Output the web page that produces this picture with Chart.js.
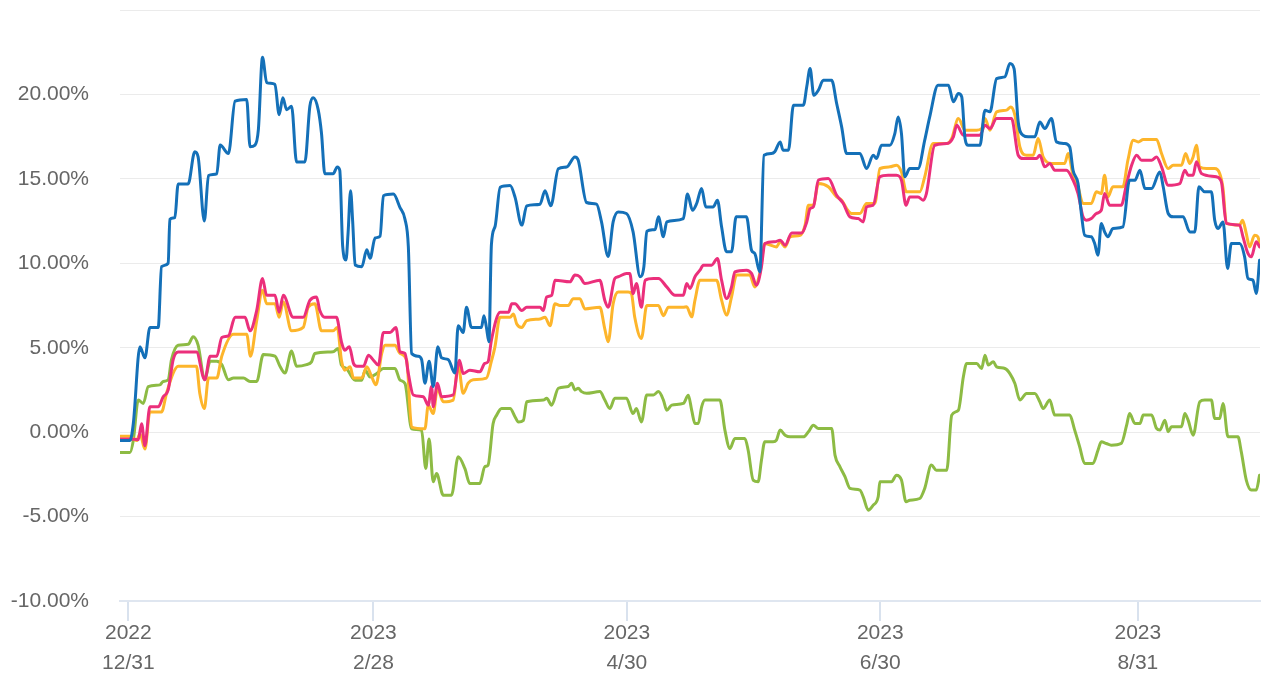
<!DOCTYPE html>
<html>
<head>
<meta charset="utf-8">
<script src="https://cdn.jsdelivr.net/npm/chart.js@4.4.0/dist/chart.umd.min.js"></script>
<style>
html,body{margin:0;padding:0;background:#fff;}
#wrap{width:1268px;height:675px;}
</style>
</head>
<body>
<div id="wrap"><canvas id="c" width="1268" height="675"></canvas></div>
<script>
// x = days since 2022-12-31, y = cumulative return (%)
const tickDays = [0, 59, 120, 181, 243];
const tickYears = ['2022', '2023', '2023', '2023', '2023'];
const tickDates = ['12/31', '2/28', '4/30', '6/30', '8/31'];

const bluePts = [[-2,-0.5],[0.4,-0.5],[1.2,0.5],[2.8,5.05],[4.0,4.4],[5.2,6.2],[7.2,6.2],[8.0,9.8],[9.6,10.0],[10.0,12.6],[11.2,12.7],[12.0,14.7],[14.4,14.7],[16.0,16.6],[16.8,16.3],[18.3,12.5],[19.3,15.2],[21.3,15.3],[22.1,17.0],[24.1,16.5],[25.7,19.6],[28.5,19.7],[29.3,16.9],[30.5,17.0],[31.3,17.9],[32.3,22.2],[33.3,20.7],[35.3,20.6],[36.3,18.8],[37.2,19.8],[38.1,19.1],[39.3,19.3],[40.5,16.0],[42.5,16.0],[43.7,19.3],[44.5,19.8],[45.7,19.1],[46.5,17.7],[47.3,15.3],[49.3,15.3],[50.3,15.7],[50.9,15.5],[51.6,11.0],[52.4,10.2],[52.9,11.8],[53.5,14.3],[54.0,12.5],[54.6,9.9],[56.2,9.8],[57.4,10.8],[58.2,10.3],[59.4,11.5],[60.6,11.6],[61.4,14.0],[63.8,14.1],[65.4,13.3],[66.6,12.6],[67.4,11.0],[68.2,4.66],[69.8,4.5],[70.6,4.3],[71.4,2.9],[72.4,4.2],[73.4,2.7],[74.5,5.05],[75.4,4.4],[77.0,4.3],[78.6,3.5],[79.4,6.3],[80.6,5.9],[81.4,7.4],[82.6,6.2],[85.0,6.2],[85.6,6.9],[86.2,6.2],[86.8,5.35],[87.4,11.1],[88.3,12.2],[89.5,14.5],[91.9,14.6],[93.1,13.9],[94.7,12.26],[95.9,13.4],[99.1,13.5],[100.3,14.3],[101.7,13.4],[103.5,15.6],[105.5,15.7],[107.5,16.3],[108.3,16.1],[110.3,13.6],[112.7,13.5],[113.9,12.45],[115.5,10.4],[116.7,12.45],[117.9,13.04],[119.9,12.95],[121.5,11.86],[123.2,9.2],[124.1,9.8],[124.8,11.9],[126.8,12.0],[127.6,12.75],[128.8,11.57],[129.6,12.45],[133.6,12.65],[134.6,14.1],[135.8,13.14],[136.8,13.54],[138.0,14.43],[139.0,13.34],[140.8,13.34],[141.8,13.74],[142.8,12.16],[144.0,10.68],[145.2,10.68],[146.3,12.75],[148.8,12.75],[150.0,10.78],[150.8,10.58],[152.0,9.49],[153.0,16.4],[154.8,16.5],[155.6,16.6],[156.9,17.19],[157.6,16.7],[158.9,16.7],[160.1,19.36],[162.5,19.36],[163.3,20.45],[164.1,21.53],[165.0,19.95],[166.1,20.25],[167.3,20.84],[169.3,20.84],[170.5,19.46],[171.7,18.08],[172.9,16.5],[176.1,16.5],[177.7,15.61],[179.3,16.4],[180.1,16.2],[181.3,16.99],[183.3,16.99],[184.5,17.68],[185.3,18.67],[186.1,17.68],[186.9,15.12],[188.1,15.61],[190.1,15.61],[191.7,17.29],[192.9,18.67],[194.9,20.55],[197.4,20.55],[198.6,19.56],[199.8,20.05],[200.6,19.86],[201.4,17.39],[202.2,16.99],[205.0,16.99],[206.2,19.07],[207.4,18.97],[209.0,20.94],[211.0,21.04],[212.2,21.83],[213.2,21.53],[214.2,18.37],[215.4,17.58],[216.6,17.49],[218.2,17.49],[219.4,18.37],[220.6,17.98],[222.2,18.57],[223.4,17.19],[225.4,17.09],[226.6,16.89],[227.4,15.51],[228.6,14.72],[229.4,12.95],[230.2,11.66],[231.8,11.57],[232.6,11.17],[233.4,10.48],[234.2,12.36],[235.0,11.86],[235.8,11.57],[237.0,12.06],[239.4,12.16],[241.0,14.92],[242.3,14.92],[243.5,15.51],[244.7,14.43],[246.3,14.43],[248.3,15.41],[249.1,14.53],[250.3,12.95],[251.5,12.75],[253.9,12.75],[255.5,11.86],[256.7,11.86],[257.7,14.53],[259.1,14.23],[260.7,14.23],[261.5,12.55],[262.3,12.06],[263.5,12.45],[264.6,9.69],[265.5,11.17],[267.5,11.17],[268.7,10.38],[269.5,9.1],[270.7,9.0],[271.5,8.21],[272.3,10.18]];

const pinkPts = [[-2,-0.4],[0.4,-0.4],[2.4,-0.45],[3.2,0.5],[4.0,-0.8],[5.2,1.5],[7.2,1.5],[8.4,2.1],[9.6,2.5],[10.8,4.3],[12.0,4.75],[16.4,4.75],[18.4,3.1],[19.7,4.5],[21.3,4.5],[22.5,5.6],[24.1,5.7],[25.7,6.8],[28.1,6.8],[29.3,6.0],[30.9,7.2],[32.3,9.1],[33.3,8.1],[35.3,8.1],[36.3,7.1],[37.3,8.1],[39.7,6.8],[42.1,6.8],[43.7,7.8],[45.3,8.0],[46.1,7.2],[47.3,6.8],[50.1,6.8],[51.3,5.35],[52.1,4.85],[53.2,5.05],[54.2,4.07],[55.0,3.9],[56.6,3.9],[57.8,4.56],[59.0,4.26],[60.2,3.97],[61.4,5.9],[63.0,5.9],[64.4,6.2],[65.4,4.76],[66.6,4.66],[67.4,3.47],[68.6,2.2],[71.0,2.1],[72.2,1.6],[73.0,2.7],[73.4,1.5],[74.4,2.9],[75.4,2.1],[78.2,2.2],[79.7,4.26],[80.6,3.47],[82.2,3.67],[84.6,3.57],[85.8,4.07],[86.6,4.17],[87.4,5.45],[89.5,7.1],[91.5,7.1],[92.3,7.6],[93.1,7.6],[94.7,7.2],[95.9,7.4],[99.1,7.4],[99.9,7.2],[100.7,8.0],[101.9,8.1],[102.7,9.0],[106.3,8.9],[107.5,9.3],[108.7,9.2],[109.9,8.8],[113.5,9.0],[114.7,7.8],[115.5,7.4],[117.1,9.1],[117.9,9.2],[119.9,9.4],[120.7,9.4],[121.5,8.2],[122.3,8.8],[123.5,7.4],[124.4,9.0],[126.4,9.1],[127.6,9.1],[129.6,8.6],[131.6,8.1],[133.6,8.11],[134.4,8.8],[135.2,8.51],[136.4,9.2],[137.6,9.59],[138.4,9.89],[140.4,9.89],[141.8,10.28],[142.8,9.0],[144.0,7.91],[145.2,8.6],[146.0,9.49],[148.8,9.59],[150.0,9.4],[151.2,8.7],[152.4,9.79],[153.2,11.17],[155.6,11.27],[156.9,11.37],[158.1,11.07],[159.7,11.8],[162.1,11.8],[163.3,12.45],[164.1,13.24],[164.9,13.34],[166.1,14.92],[168.5,15.02],[170.5,14.03],[172.1,13.54],[173.7,12.75],[175.7,12.65],[176.9,12.45],[177.7,13.34],[179.3,13.44],[180.9,15.12],[182.9,15.22],[184.9,15.22],[186.1,14.92],[187.2,13.44],[188.1,13.93],[190.1,13.93],[191.3,13.74],[192.1,14.13],[194.1,16.99],[197.0,17.09],[198.6,17.49],[199.4,18.18],[201.0,17.58],[205.0,17.58],[206.2,18.18],[207.4,17.98],[209.0,18.57],[212.6,18.57],[214.2,16.4],[215.4,16.2],[218.6,16.2],[219.4,16.4],[220.6,15.71],[221.8,15.91],[223.0,15.51],[225.8,15.51],[227.4,14.92],[228.6,14.13],[229.8,12.75],[230.6,12.55],[231.8,12.65],[233.0,12.95],[234.2,13.14],[235.0,14.13],[236.2,13.44],[239.0,13.44],[240.3,14.72],[241.5,15.81],[242.7,16.4],[243.9,16.1],[246.3,16.1],[247.5,16.3],[248.7,15.71],[250.3,14.62],[253.1,14.72],[254.3,15.51],[255.1,15.22],[256.3,15.22],[257.1,16.01],[258.3,15.32],[261.9,15.12],[263.1,14.82],[264.3,12.36],[267.5,12.26],[268.3,11.57],[269.5,10.58],[270.3,10.38],[271.5,11.27],[272.3,10.97]];

const orangePts = [[-2,-0.25],[0.4,-0.25],[2.0,-0.5],[2.8,-0.1],[4.0,-1.0],[5.2,1.2],[8.0,1.2],[9.2,2.3],[10.8,3.5],[12.0,3.9],[16.4,3.9],[17.2,2.3],[18.3,1.4],[19.3,3.2],[21.3,3.2],[22.5,4.5],[25.3,5.8],[28.5,5.8],[29.4,4.5],[30.9,6.6],[32.3,8.4],[33.3,7.6],[35.3,7.6],[36.3,6.8],[37.3,7.7],[39.3,6.0],[42.1,6.2],[43.3,7.4],[44.9,7.6],[46.5,6.0],[49.3,6.0],[50.3,6.2],[51.3,4.26],[52.1,3.67],[53.4,3.87],[54.2,3.2],[56.2,3.2],[57.4,3.87],[58.6,3.27],[59.6,2.8],[61.0,4.66],[61.8,5.15],[64.2,5.15],[65.4,4.66],[67.0,4.26],[68.2,0.3],[71.4,0.2],[72.2,1.6],[73.4,1.1],[74.4,2.6],[75.8,1.8],[78.2,1.9],[79.4,3.97],[80.6,2.3],[81.8,2.9],[83.0,3.1],[86.2,3.2],[87.4,4.2],[88.25,5.05],[89.45,6.8],[91.9,6.8],[92.7,7.0],[93.5,6.4],[94.7,6.2],[95.9,6.6],[99.1,6.7],[100.3,6.8],[101.5,6.3],[102.7,7.6],[103.9,7.5],[105.9,7.5],[107.1,7.9],[108.7,7.9],[109.9,7.3],[113.5,7.4],[114.7,6.1],[115.5,5.35],[116.7,7.6],[117.9,8.3],[120.3,8.3],[121.1,8.2],[121.9,6.8],[123.5,5.55],[124.8,7.5],[127.6,7.5],[128.8,6.9],[130.0,7.4],[133.6,7.4],[134.4,7.42],[135.6,6.83],[136.4,7.82],[137.6,9.0],[141.6,9.0],[142.8,7.82],[144.0,6.93],[145.2,8.01],[146.4,9.3],[149.6,9.3],[150.8,8.6],[152.0,9.4],[153.2,11.17],[156.0,10.97],[156.9,11.27],[158.1,10.97],[159.3,11.57],[161.7,11.66],[162.9,12.26],[163.7,13.44],[164.9,13.44],[166.1,14.72],[168.5,14.53],[170.5,13.93],[171.7,13.74],[172.9,13.24],[174.1,12.95],[176.1,12.95],[177.7,13.54],[179.7,13.54],[180.9,15.61],[183.3,15.71],[184.9,15.81],[186.1,15.41],[187.3,14.23],[190.5,14.23],[191.7,15.12],[193.7,17.09],[197.0,17.09],[198.2,17.39],[199.8,18.57],[201.4,17.88],[204.2,17.88],[205.4,17.98],[206.2,18.57],[207.4,17.88],[209.0,18.97],[211.4,19.07],[212.4,19.26],[213.4,18.77],[214.6,16.89],[216.2,16.4],[217.8,16.4],[219.0,17.39],[220.2,16.3],[222.2,15.91],[225.4,15.91],[226.2,16.5],[227.4,15.22],[228.6,14.53],[229.8,13.54],[231.8,13.54],[233.0,14.23],[234.2,14.13],[235.0,15.22],[235.8,13.93],[237.0,14.53],[239.4,14.53],[240.6,16.1],[241.9,17.29],[243.1,17.19],[244.3,17.33],[247.5,17.33],[248.7,16.5],[250.3,15.61],[251.5,15.81],[253.5,15.81],[254.5,16.5],[255.5,15.91],[256.3,16.3],[257.1,16.99],[257.9,15.71],[259.5,15.61],[261.5,15.61],[262.7,15.32],[263.5,14.43],[264.3,12.36],[267.5,12.26],[268.2,12.55],[269.1,11.76],[269.9,10.97],[271.1,11.66],[271.9,11.57],[272.3,11.17]];

const greenPts = [[-2,-1.2],[0.4,-1.2],[1.2,-0.5],[2.4,1.9],[3.6,1.7],[4.8,2.7],[7.6,2.8],[8.4,3.0],[9.6,3.1],[10.4,4.3],[12.0,5.15],[14.4,5.2],[15.6,5.65],[16.8,5.15],[18.4,3.1],[19.7,4.2],[21.3,4.2],[22.5,4.0],[24.1,3.1],[25.3,3.2],[27.7,3.2],[29.3,3.0],[30.9,3.0],[32.5,4.6],[35.3,4.5],[36.5,3.9],[37.7,3.5],[39.3,4.8],[40.5,3.9],[42.9,4.0],[44.1,4.16],[44.9,4.66],[49.3,4.76],[50.5,4.95],[51.3,3.97],[52.5,3.77],[53.8,3.27],[54.6,3.08],[56.2,3.08],[57.0,3.67],[58.2,3.27],[59.8,3.47],[61.4,3.77],[64.2,3.77],[65.4,3.08],[66.6,2.88],[68.2,0.2],[70.6,0.1],[71.6,-2.15],[72.4,-0.4],[73.4,-2.94],[74.2,-2.45],[75.8,-3.73],[77.8,-3.73],[79.4,-1.46],[81.0,-2.15],[82.2,-3.04],[84.6,-3.04],[85.8,-2.05],[86.6,-1.95],[87.8,0.5],[88.65,1.0],[89.85,1.4],[91.9,1.4],[93.1,0.9],[93.9,0.6],[95.1,0.7],[95.9,1.8],[99.9,1.9],[100.7,2.0],[101.9,1.6],[103.5,2.6],[105.9,2.7],[106.7,2.9],[107.5,2.5],[108.3,2.6],[109.1,2.4],[110.3,2.3],[113.5,2.4],[114.7,1.9],[115.9,1.4],[117.1,2.0],[119.9,2.0],[121.5,1.1],[122.3,1.4],[123.5,0.6],[124.8,2.2],[126.4,2.2],[127.6,2.4],[128.8,1.9],[129.6,1.3],[130.8,1.6],[133.6,1.7],[134.8,2.19],[135.6,1.3],[136.4,0.51],[137.2,0.51],[138.0,1.5],[138.8,1.9],[142.4,1.9],[143.6,0.12],[144.8,-0.97],[146.0,-0.38],[148.4,-0.38],[149.2,-1.07],[150.4,-2.84],[151.6,-2.94],[152.4,-1.66],[153.2,-0.57],[155.2,-0.57],[156.0,-0.47],[156.9,0.12],[158.1,-0.18],[159.3,-0.28],[162.5,-0.28],[163.7,0.02],[164.9,0.41],[166.1,0.22],[169.3,0.22],[170.1,-1.36],[171.3,-2.05],[172.5,-2.64],[173.7,-3.33],[176.1,-3.43],[176.9,-3.83],[178.1,-4.62],[179.3,-4.32],[180.5,-3.83],[180.9,-2.94],[183.7,-2.94],[184.9,-2.55],[186.1,-2.84],[187.2,-4.12],[188.1,-4.03],[190.5,-3.93],[191.7,-3.33],[193.3,-1.95],[194.5,-2.25],[197.0,-2.25],[198.2,1.01],[199.8,1.3],[201.0,3.28],[201.8,4.07],[204.2,4.07],[205.4,3.77],[206.2,4.56],[207.0,3.97],[208.2,4.17],[209.0,3.87],[211.0,3.77],[212.2,3.47],[213.4,2.88],[214.6,1.9],[216.2,2.29],[218.2,2.29],[219.4,1.8],[220.2,1.4],[221.8,1.9],[223.0,1.01],[226.6,1.01],[227.8,0.12],[229.0,-0.87],[230.2,-1.85],[232.2,-1.85],[233.4,-1.07],[234.2,-0.57],[235.4,-0.67],[236.6,-0.77],[239.0,-0.67],[240.3,0.41],[241.0,1.1],[242.3,0.51],[243.5,0.51],[244.3,1.01],[246.3,1.01],[247.5,0.22],[248.3,0.12],[249.5,0.71],[250.3,0.02],[251.1,0.32],[253.5,0.32],[254.3,1.1],[255.1,0.71],[256.3,-0.18],[257.9,1.8],[259.1,1.9],[260.7,1.9],[261.5,0.81],[262.7,0.81],[263.5,1.7],[264.7,-0.28],[267.1,-0.28],[267.9,-1.17],[269.1,-2.84],[270.3,-3.43],[271.5,-3.43],[272.3,-2.55]];

const toXY = pts => pts.map(p => ({x: p[0], y: p[1]}));
const axisFont = {family: '"Liberation Sans", Arial, sans-serif', size: 21, lineHeight: 1.4};

function line(label, pts, color, order) {
  return {
    label, data: toXY(pts), borderColor: color, backgroundColor: color,
    borderWidth: 3, pointRadius: 0, pointHoverRadius: 0, fill: false,
    cubicInterpolationMode: 'monotone', borderJoinStyle: 'round', borderCapStyle: 'round', order
  };
}

new Chart(document.getElementById('c'), {
  type: 'line',
  data: {
    datasets: [
      line('A', bluePts, '#1470b8', 0),
      line('B', pinkPts, '#eb2f7b', 1),
      line('C', orangePts, '#fdb52b', 2),
      line('D', greenPts, '#8dbb44', 3)
    ]
  },
  options: {
    responsive: false,
    animation: false,
    events: [],
    layout: {padding: {left: 0, right: 8, top: 10, bottom: 0}},
    plugins: {legend: {display: false}, tooltip: {enabled: false}},
    scales: {
      x: {
        type: 'linear',
        min: -2, max: 272.4,
        afterBuildTicks: s => { s.ticks = tickDays.map(v => ({value: v})); },
        afterFit: s => { s.height = 74; s.paddingLeft = 0; s.paddingRight = 0; },
        grid: {drawOnChartArea: false, drawTicks: true, tickLength: 20, color: '#d9e2ee', lineWidth: 2},
        border: {display: true, color: '#dfe6f0', width: 2},
        ticks: {
          autoSkip: false, maxRotation: 0, padding: -2, color: '#666', font: axisFont,
          callback: v => { const i = tickDays.indexOf(v); return i < 0 ? '' : [tickYears[i], tickDates[i]]; }
        }
      },
      y: {
        min: -10, max: 25,
        afterFit: s => { s.width = 120; s.paddingTop = 0; s.paddingBottom = 0; },
        grid: {color: '#ebebeb', lineWidth: 1, drawTicks: false},
        border: {display: false},
        ticks: {
          stepSize: 5, padding: 31, color: '#666', font: axisFont,
          callback: v => v >= 25 ? '' : v.toFixed(2) + '%'
        }
      }
    }
  }
});
</script>
</body>
</html>
